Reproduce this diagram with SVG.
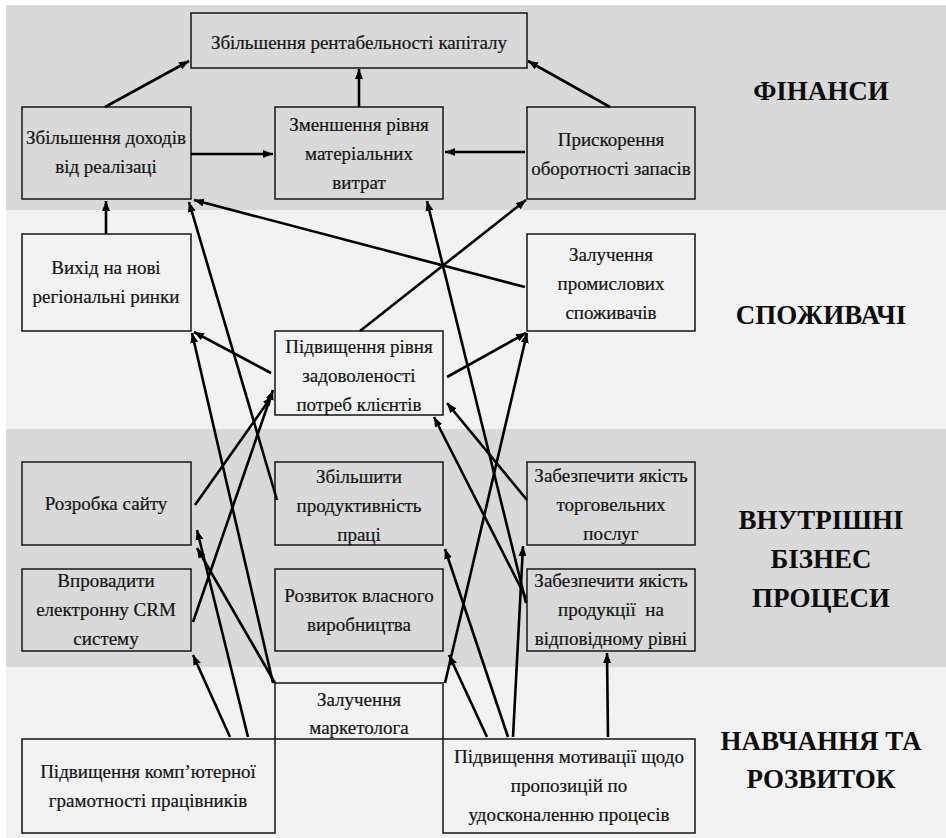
<svg xmlns="http://www.w3.org/2000/svg" width="946" height="838" viewBox="0 0 946 838">
  <defs>
    <marker id="arrow" markerUnits="userSpaceOnUse" markerWidth="11" markerHeight="9" refX="10" refY="4" orient="auto">
      <path d="M0,0 L10,4 L0,8 z" fill="#000"/>
    </marker>
    <style>
      .dark { fill: #d9d9d9; }
      .light { fill: #f2f2f2; }
      .box { stroke: #141414; stroke-width: 1.5; }
      .t { font-family: "Liberation Serif", "DejaVu Serif", serif; font-size: 19px; fill: #141414; stroke: #141414; stroke-width: 0.2; text-anchor: middle; }
      .h { font-family: "Liberation Serif", "DejaVu Serif", serif; font-size: 27px; font-weight: bold; fill: #0d0d0d; text-anchor: middle; }
      .c path { fill: none; stroke: #000; stroke-width: 2.6; marker-end: url(#arrow); }
    </style>
  </defs>

  <rect width="946" height="838" fill="#fff"/>

  <!-- perspective bands -->
  <rect class="dark" x="6" y="5" width="940" height="205"/>
  <rect class="light" x="6" y="210" width="940" height="219"/>
  <rect class="dark" x="6" y="429" width="940" height="238"/>
  <rect class="light" x="6" y="667" width="940" height="171"/>

  <g id="label-finance"><text class="h" x="821" y="100">ФІНАНСИ</text></g>
  <g id="label-customers"><text class="h" x="821" y="324">СПОЖИВАЧІ</text></g>
  <g id="label-processes">
    <text class="h" x="821" y="529">ВНУТРІШНІ</text>
    <text class="h" x="821" y="568">БІЗНЕС</text>
    <text class="h" x="821" y="607">ПРОЦЕСИ</text>
  </g>
  <g id="label-learning">
    <text class="h" x="821" y="750">НАВЧАННЯ ТА</text>
    <text class="h" x="821" y="788">РОЗВИТОК</text>
  </g>

  <!-- finance -->
  <g id="roe">
    <rect class="box dark" x="191" y="13" width="336" height="55"/>
    <text class="t" x="359" y="49">Збільшення рентабельності капіталу</text>
  </g>
  <g id="revenue">
    <rect class="box dark" x="22" y="107" width="169" height="92"/>
    <text class="t" x="106" y="144">Збільшення доходів</text>
    <text class="t" x="106" y="173">від реалізаці</text>
  </g>
  <g id="material-costs">
    <rect class="box dark" x="275" y="107" width="168" height="92"/>
    <text class="t" x="359" y="131">Зменшення рівня</text>
    <text class="t" x="359" y="160">матеріальних</text>
    <text class="t" x="359" y="189">витрат</text>
  </g>
  <g id="inventory-turnover">
    <rect class="box dark" x="527" y="107" width="168" height="92"/>
    <text class="t" x="611" y="146">Прискорення</text>
    <text class="t" x="611" y="175">оборотності запасів</text>
  </g>

  <!-- customers -->
  <g id="new-markets">
    <rect class="box light" x="22" y="234" width="169" height="97"/>
    <text class="t" x="106" y="274">Вихід на нові</text>
    <text class="t" x="106" y="303">регіональні ринки</text>
  </g>
  <g id="industrial-clients">
    <rect class="box light" x="527" y="234" width="168" height="97"/>
    <text class="t" x="611" y="261">Залучення</text>
    <text class="t" x="611" y="290">промислових</text>
    <text class="t" x="611" y="319">споживачів</text>
  </g>
  <g id="satisfaction">
    <rect class="box light" x="275" y="331" width="168" height="84"/>
    <text class="t" x="359" y="353">Підвищення рівня</text>
    <text class="t" x="359" y="382">задоволеності</text>
    <text class="t" x="359" y="411">потреб клієнтів</text>
  </g>

  <!-- internal processes -->
  <g id="website">
    <rect class="box dark" x="22" y="462" width="169" height="83"/>
    <text class="t" x="106" y="510">Розробка сайту</text>
  </g>
  <g id="productivity">
    <rect class="box dark" x="275" y="462" width="168" height="83"/>
    <text class="t" x="359" y="483">Збільшити</text>
    <text class="t" x="359" y="512">продуктивність</text>
    <text class="t" x="359" y="541">праці</text>
  </g>
  <g id="service-quality">
    <rect class="box dark" x="527" y="462" width="168" height="83"/>
    <text class="t" x="611" y="482">Забезпечити якість</text>
    <text class="t" x="611" y="511">торговельних</text>
    <text class="t" x="611" y="540">послуг</text>
  </g>
  <g id="crm">
    <rect class="box dark" x="22" y="569" width="169" height="82"/>
    <text class="t" x="106" y="587">Впровадити</text>
    <text class="t" x="106" y="616">електронну CRM</text>
    <text class="t" x="106" y="645">систему</text>
  </g>
  <g id="own-production">
    <rect class="box dark" x="275" y="569" width="168" height="82"/>
    <text class="t" x="359" y="602">Розвиток власного</text>
    <text class="t" x="359" y="631">виробництва</text>
  </g>
  <g id="product-quality">
    <rect class="box dark" x="527" y="569" width="168" height="82"/>
    <text class="t" x="611" y="587">Забезпечити якість</text>
    <text class="t" x="611" y="616" xml:space="preserve">продукції  на</text>
    <text class="t" x="611" y="645">відповідному рівні</text>
  </g>

  <!-- learning and growth -->
  <g id="marketer">
    <rect class="box light" x="275" y="683" width="168" height="56"/>
    <text class="t" x="359" y="706">Залучення</text>
    <text class="t" x="359" y="734">маркетолога</text>
  </g>
  <g id="computer-literacy">
    <rect class="box light" x="22" y="739" width="253" height="94"/>
    <text class="t" x="148" y="778">Підвищення комп’ютерної</text>
    <text class="t" x="148" y="807">грамотності працівників</text>
  </g>
  <g id="motivation">
    <rect class="box light" x="443" y="739" width="252" height="94"/>
    <text class="t" x="569" y="763">Підвищення мотивації щодо</text>
    <text class="t" x="569" y="792">пропозицій по</text>
    <text class="t" x="569" y="821">удосконаленню процесів</text>
  </g>

  <!-- cause-and-effect links -->
  <g id="connectors" class="c">
    <path d="M105,107 L189,61"/>
    <path d="M359,107 L359,69"/>
    <path d="M610,107 L528,61"/>
    <path d="M191,154 L273,154"/>
    <path d="M525,152 L445,152"/>
    <path d="M106,234 L106,201"/>
    <path d="M525,287 L194,200"/>
    <path d="M360,331 L526,200"/>
    <path d="M271,373 L194,332"/>
    <path d="M447,377 L526,333"/>
    <path d="M277,500 L189,202"/>
    <path d="M273,683 L192,333"/>
    <path d="M195,505 L272,396"/>
    <path d="M193,622 L273,390"/>
    <path d="M248,737 L197,530"/>
    <path d="M275,683 L197,548"/>
    <path d="M230,737 L193,655"/>
    <path d="M527,500 L447,403"/>
    <path d="M526,598 L434,417"/>
    <path d="M526,603 L427,201"/>
    <path d="M445,683 L527,333"/>
    <path d="M487,737 L449,655"/>
    <path d="M508,737 L445,549"/>
    <path d="M513,737 L523,546"/>
    <path d="M608,737 L607,653"/>
  </g>
</svg>
